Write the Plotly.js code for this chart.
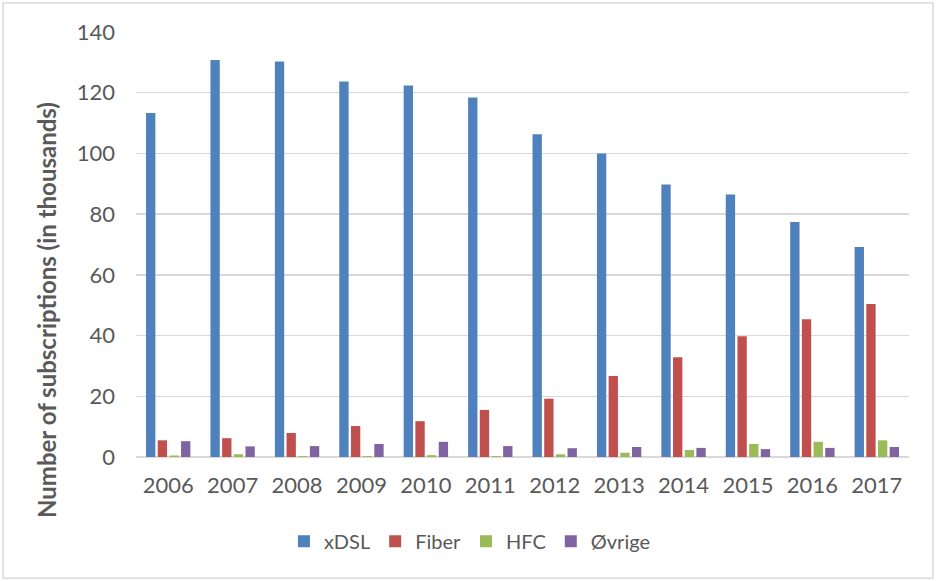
<!DOCTYPE html>
<html>
<head>
<meta charset="utf-8">
<script src="https://cdn.plot.ly/plotly-3.0.1.min.js"></script>
<style>
  html, body { margin: 0; padding: 0; background: #ffffff; }
  #chart { width: 937px; height: 581px; }
</style>
</head>
<body>
<div id="chart"></div>
<script>
const years = ['2006','2007','2008','2009','2010','2011','2012','2013','2014','2015','2016','2017'];
const xdsl  = [113.3, 130.8, 130.3, 123.7, 122.4, 118.4, 106.3, 100.0, 89.8, 86.5, 77.4, 69.2];
const fiber = [5.5, 6.2, 7.9, 10.2, 11.8, 15.5, 19.2, 26.7, 32.9, 39.8, 45.4, 50.4];
const hfc   = [0.5, 0.9, 0.3, 0.3, 0.6, 0.3, 0.9, 1.4, 2.3, 4.3, 5.0, 5.5];
const ovrige = [5.2, 3.5, 3.6, 4.3, 5.0, 3.6, 2.9, 3.3, 3.0, 2.6, 3.0, 3.3];
const yTicks = [0, 20, 40, 60, 80, 100, 120, 140];

const seriesNames = ['xDSL', 'Fiber', 'HFC', 'Øvrige'];
const seriesData = [xdsl, fiber, hfc, ovrige];
const seriesColors = ['#4F81BD', '#C0504D', '#9BBB59', '#8064A2'];

const FONT = 'Lato, "Open Sans", sans-serif';
const TXT = '#595959';

const traces = seriesNames.map((n, i) => ({
  type: 'bar',
  name: n,
  x: years,
  y: seriesData[i],
  marker: { color: seriesColors[i], line: { width: 0 } },
  hoverinfo: 'x+y+name'
}));

const layout = {
  width: 937,
  height: 581,
  margin: { l: 136, r: 28, t: 32, b: 124 },
  paper_bgcolor: '#ffffff',
  plot_bgcolor: '#ffffff',
  barmode: 'group',
  bargap: 0.275,
  bargroupgap: 0.2,
  font: { family: FONT, color: TXT, size: 20 },
  xaxis: {
    type: 'category',
    showgrid: false,
    showline: false,
    ticks: '',
    tickfont: { family: FONT, size: 22, color: TXT },
    ticklabelstandoff: 13,
    fixedrange: true
  },
  yaxis: {
    range: [0, 140],
    tickvals: yTicks,
    ticktext: yTicks.map(String),
    showgrid: true,
    gridcolor: '#d9d9d9',
    gridwidth: 1.5,
    zeroline: true,
    zerolinecolor: '#d9d9d9',
    zerolinewidth: 2,
    showline: false,
    ticks: '',
    tickfont: { family: FONT, size: 22, color: TXT },
    ticklabelstandoff: 20,
    fixedrange: true
  },
  showlegend: true,
  legend: {
    orientation: 'h',
    x: 0.432,
    xanchor: 'center',
    y: -0.198,
    yanchor: 'middle',
    font: { family: FONT, size: 20, color: TXT },
    itemwidth: 30,
    traceorder: 'normal',
    bgcolor: 'rgba(0,0,0,0)'
  },
  annotations: [{
    text: 'Number of subscriptions (in thousands)',
    xref: 'paper', yref: 'paper',
    x: -0.1151, y: 0.346,
    xanchor: 'center', yanchor: 'middle',
    textangle: -90,
    showarrow: false,
    font: { family: FONT, size: 24, color: TXT, weight: 'bold' }
  }],
  shapes: [{
    type: 'rect',
    xref: 'paper', yref: 'paper',
    x0: -0.172, x1: 1.031,
    y0: -0.285, y1: 1.068,
    line: { color: '#d9d9d9', width: 1.5 },
    fillcolor: 'rgba(0,0,0,0)',
    layer: 'below'
  }]
};

Plotly.newPlot('chart', traces, layout, { displayModeBar: false, staticPlot: true });
</script>
</body>
</html>
